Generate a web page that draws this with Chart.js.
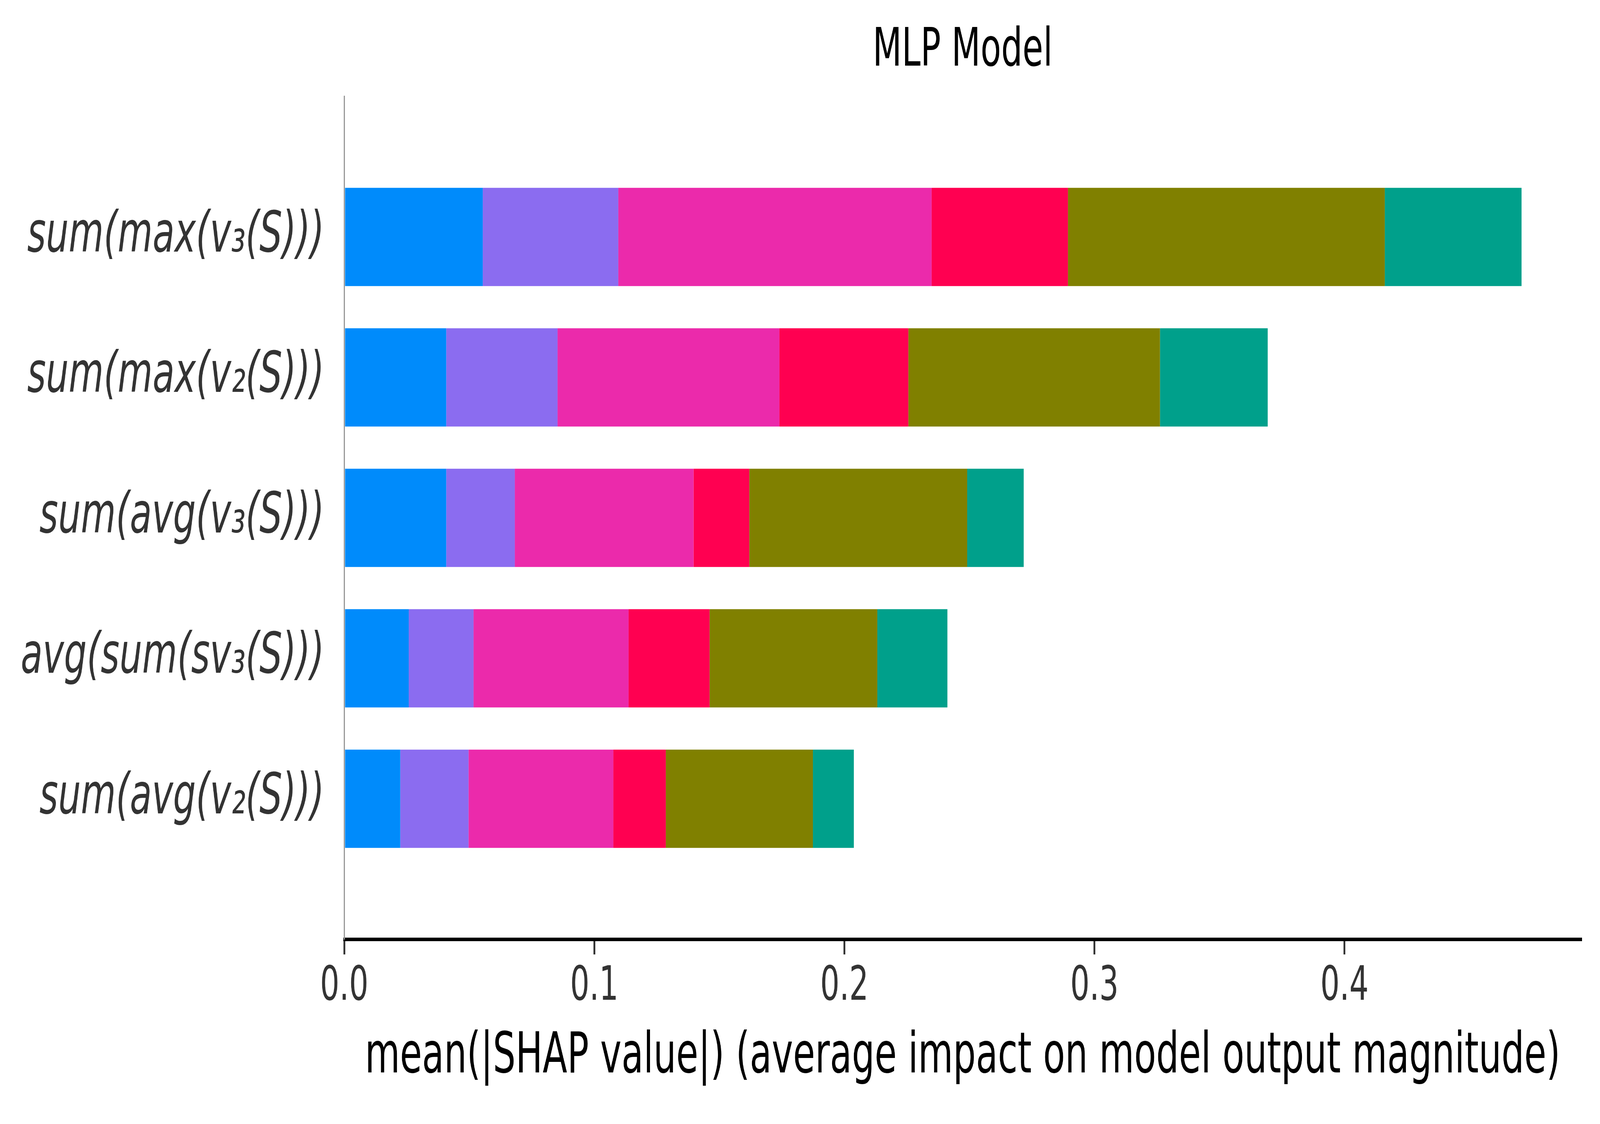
<!DOCTYPE html>
<html>
<head>
<meta charset="utf-8">
<script src="https://cdn.jsdelivr.net/npm/chart.js@4.4.1/dist/chart.umd.min.js"></script>
<style>
  html, body { margin: 0; padding: 0; background: #ffffff; overflow: hidden; width: 100vw; height: 100vh; }
  #c { display: block; width: 100vw; height: 100vh; }
</style>
</head>
<body>
<canvas id="c" width="6419" height="2877" style="width:100vw;height:100vh;"></canvas>
<script>
// ---- data ----
const categories = ['sum(max(v₃(S)))', 'sum(max(v₂(S)))', 'sum(avg(v₃(S)))', 'avg(sum(sv₃(S)))', 'sum(avg(v₂(S)))'];
const seriesNames = ['Class 0', 'Class 1', 'Class 2', 'Class 3', 'Class 4', 'Class 5'];
const class0 = [0.0554, 0.0408, 0.0408, 0.0258, 0.0224];
const class1 = [0.0542, 0.0445, 0.0274, 0.0259, 0.0273];
const class2 = [0.1253, 0.0887, 0.0715, 0.0620, 0.0579];
const class3 = [0.0545, 0.0516, 0.0223, 0.0324, 0.0210];
const class4 = [0.1267, 0.1006, 0.0871, 0.0671, 0.0588];
const class5 = [0.0547, 0.0431, 0.0226, 0.0280, 0.0164];
const xTickValues = [0.0, 0.1, 0.2, 0.3, 0.4];
const xMax = 0.4946;
const colors = ['#008bfb', '#8b6cf0', '#eb2aab', '#ff0051', '#808000', '#00a08b'];

const allSeries = [class0, class1, class2, class3, class4, class5];
const FONT = 'DejaVu Sans';

const datasets = allSeries.map((vals, k) => ({
  label: seriesNames[k],
  data: vals.map((v, i) => ({ x: v, y: i })),
  backgroundColor: colors[k],
  borderWidth: 0,
  barPercentage: 0.7,
  categoryPercentage: 1.0
}));

new Chart(document.getElementById('c'), {
  type: 'bar',
  data: { datasets },
  options: {
    indexAxis: 'y',
    responsive: false,
    animation: false,
    devicePixelRatio: 1,
    layout: { padding: { left: 0, right: 76, top: 0, bottom: 0 } },
    plugins: {
      legend: { display: false },
      tooltip: { enabled: false },
      title: {
        display: true,
        fullSize: false,
        text: 'MLP Model',
        color: '#000000',
        font: { family: FONT, size: 135, weight: 'normal', lineHeight: 1.2 },
        padding: { top: 52, bottom: 33 }
      }
    },
    scales: {
      x: {
        type: 'linear',
        stacked: true,
        offset: false,
        min: 0,
        max: xMax,
        afterBuildTicks: (scale) => { scale.ticks = xTickValues.map(v => ({ value: v })); },
        afterFit: (scale) => { scale.height = 2877 - 2404; },
        ticks: {
          includeBounds: false,
          stepSize: 0.1,
          color: '#333333',
          padding: 11,
          font: { family: FONT, size: 122 },
          callback: (v) => Number(v).toFixed(1)
        },
        grid: {
          display: true,
          offset: false,
          drawOnChartArea: false,
          drawTicks: true,
          tickLength: 39,
          tickColor: '#333333',
          lineWidth: 7
        },
        border: { display: true, color: '#000000', width: 9 },
        title: {
          display: true,
          text: 'mean(|SHAP value|) (average impact on model output magnitude)',
          color: '#000000',
          font: { family: FONT, size: 144, lineHeight: 1.2 },
          padding: { top: 0, bottom: 82.6 }
        }
      },
      y: {
        type: 'linear',
        stacked: true,
        offset: false,
        reverse: true,
        min: -1,
        max: 5,
        afterBuildTicks: (scale) => { scale.ticks = categories.map((c, i) => ({ value: i })); },
        afterFit: (scale) => { scale.width = 1381; },
        ticks: {
          stepSize: 1,
          autoSkip: false,
          color: '#333333',
          padding: 80,
          font: { family: FONT, size: 144, style: 'italic' },
          callback: (v) => (Number.isInteger(v) && categories[v] !== undefined) ? categories[v] : ''
        },
        grid: { display: false, offset: false, drawTicks: false },
        border: { display: true, color: '#999999', width: 5 }
      }
    }
  }
});
</script>
</body>
</html>
